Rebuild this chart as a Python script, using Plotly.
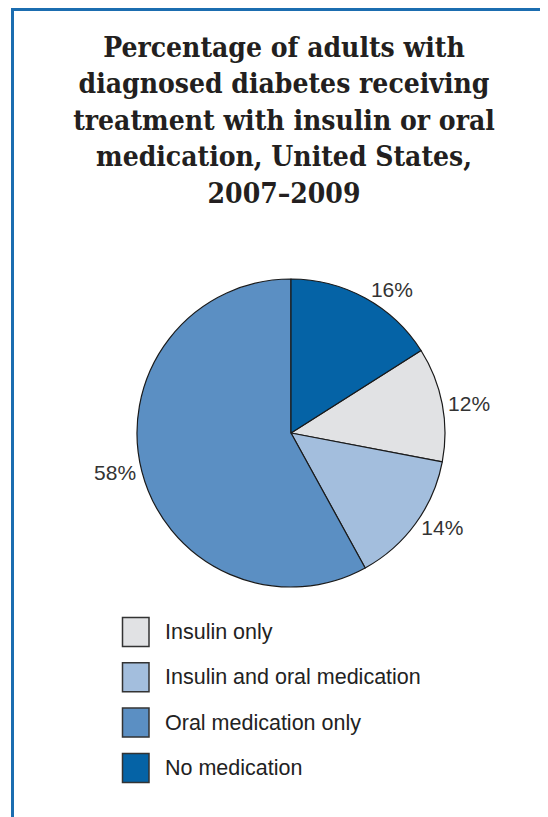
import plotly.graph_objects as go

# Données (ordre de la légende)
categories = ["Insulin only", "Insulin and oral medication", "Oral medication only", "No medication"]
percents = [12, 14, 58, 16]
colors = ["#e1e2e4", "#a3bedd", "#5b8fc3", "#0563a6"]

title_text = (
    "<b>Percentage of adults with<br>diagnosed diabetes receiving<br>"
    "treatment with insulin or oral<br>medication, United States,<br>2007\u20132009</b>"
)

W, H = 548, 817
OFF = 8  # marge du <body> de la page html
FRAME = "#1b6db0"
SANS = "Liberation Sans, Arial, sans-serif"


def px_x(x):
    """Pixel écran -> coordonnée paper (x)."""
    return (x - OFF) / W


def px_y(y):
    """Pixel écran -> coordonnée paper (y)."""
    return 1 - (y - OFF) / H


fig = go.Figure()

# la tranche "No medication" commence à 12 h, donc on décale la rotation
rotation = percents[-1] / sum(percents) * 360

fig.add_trace(
    go.Pie(
        labels=categories,
        values=percents,
        marker={"colors": colors, "line": {"color": "#1a1a1a", "width": 1.2}},
        sort=False,
        direction="clockwise",
        rotation=rotation,
        textposition="outside",
        texttemplate="%{value}%",
        textfont={"family": SANS, "size": 21, "color": "#333333"},
        domain={"x": [px_x(137), px_x(445)], "y": [px_y(587), px_y(279)]},
        showlegend=False,
        hoverinfo="label+percent",
    )
)

# Cadre bleu (haut + gauche)
fig.add_shape(type="line", xref="paper", yref="paper", x0=px_x(11), x1=1.0, y0=px_y(9.5), y1=px_y(9.5),
              line={"color": FRAME, "width": 3})
fig.add_shape(type="line", xref="paper", yref="paper", x0=px_x(12.5), x1=px_x(12.5), y0=-0.02, y1=px_y(9.5),
              line={"color": FRAME, "width": 3})

# Légende manuelle (carrés + texte)
leg_top = 632
leg_step = 45.3
for i, (name, col) in enumerate(zip(categories, colors)):
    yc = leg_top + i * leg_step
    fig.add_shape(type="rect", xref="paper", yref="paper",
                  x0=px_x(122.5), x1=px_x(149), y0=px_y(yc + 14.5), y1=px_y(yc - 14.5),
                  fillcolor=col, line={"color": "#333333", "width": 1.5})
    fig.add_annotation(x=px_x(163), y=px_y(yc), xref="paper", yref="paper", text=name,
                       showarrow=False, xanchor="left", yanchor="middle",
                       font={"family": SANS, "size": 21.5, "color": "#222222"})

fig.update_layout(
    width=W,
    height=H,
    margin={"l": 0, "r": 0, "t": 0, "b": 0, "autoexpand": False},
    paper_bgcolor="white",
    plot_bgcolor="white",
    title={
        "text": title_text,
        "x": px_x(284),
        "xanchor": "center",
        "y": px_y(57),
        "yanchor": "top",
        "font": {"family": "DejaVu Serif Condensed, DejaVu Serif, serif", "size": 28, "color": "#231f20"},
    },
)

fig.write_html("out.html")
